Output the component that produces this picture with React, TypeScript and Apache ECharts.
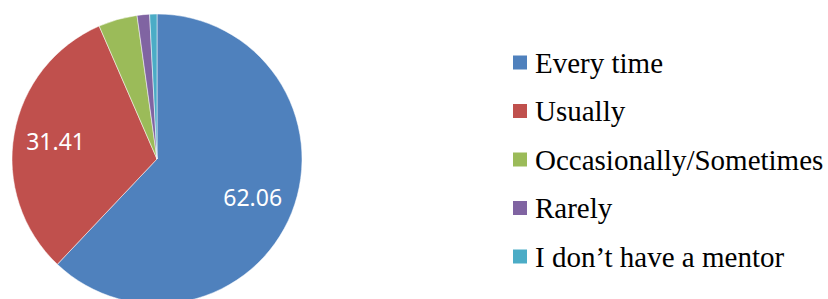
import React, { useEffect, useRef } from "react";
import * as echarts from "echarts";

const categories = [
  "Every time",
  "Usually",
  "Occasionally/Sometimes",
  "Rarely",
  "I don\u2019t have a mentor",
];
const values = [62.06, 31.41, 4.33, 1.39, 0.81];
const labelShown = [true, true, false, false, false];
const colors = ["#4F81BD", "#C0504D", "#9BBB59", "#8064A2", "#4BACC6"];

export default function App() {
  const ref = useRef<HTMLDivElement>(null);
  useEffect(() => {
    document.body.style.margin = "0";
    const chart = echarts.init(ref.current!, null, { renderer: "svg" });
    const data = categories.map((name, i) => ({
      name,
      value: values[i],
      itemStyle: { color: colors[i] },
    }));
    chart.setOption({
      animation: false,
      backgroundColor: "#ffffff",
      legend: {
        orient: "vertical",
        left: 513,
        top: 48,
        padding: 0,
        itemWidth: 14,
        itemHeight: 14,
        itemGap: 19.5,
        icon: "rect",
        data: categories,
        selectedMode: false,
        itemStyle: { borderWidth: 0 },
        textStyle: {
          fontFamily: "Liberation Serif",
          fontSize: 29,
          lineHeight: 29,
          color: "#000000",
          padding: [0, 0, 0, 3],
        },
      },
      series: [
        {
          type: "pie",
          center: [157, 159],
          radius: [0, 145],
          startAngle: 90,
          clockwise: true,
          data,
          label: { show: false },
          labelLine: { show: false },
          itemStyle: { borderColor: "#ffffff", borderWidth: 0.5 },
          emphasis: { disabled: true },
        },
        {
          type: "pie",
          center: [157, 159],
          radius: [0, 200],
          startAngle: 90,
          clockwise: true,
          silent: true,
          legendHoverLink: false,
          data: categories.map((name, i) => ({
            name: name + " ",
            value: values[i],
            itemStyle: { color: "rgba(0,0,0,0)" },
            label: { show: labelShown[i] },
          })),
          label: {
            position: "inner",
            formatter: (p: any) => values[p.dataIndex].toFixed(2),
            fontFamily: "Noto Sans",
            fontSize: 23,
            color: "#ffffff",
          },
          labelLine: { show: false },
          emphasis: { disabled: true },
        },
      ],
    });
    return () => chart.dispose();
  }, []);
  return <div ref={ref} style={{ width: 828, height: 299 }} />;
}
